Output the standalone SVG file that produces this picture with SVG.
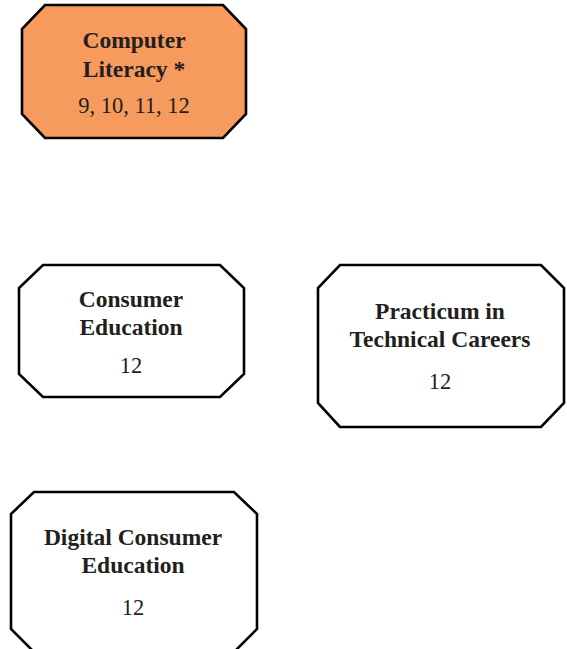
<svg xmlns="http://www.w3.org/2000/svg" width="567" height="649" viewBox="0 0 567 649">
<style>
.box{fill:#fff;stroke:#000;stroke-width:2.6;stroke-linejoin:miter}
.hot{fill:#F79A5D}
text{font-family:"Liberation Serif","Times New Roman",serif;fill:#231F20;text-anchor:middle;font-size:22.5px}
.t{font-weight:bold;font-size:23.5px}
</style>
<rect width="567" height="649" fill="#fff"/>
<g id="connectors"></g>
<g id="computer-literacy">
<polygon class="box hot" points="45,5 223,5 246,29 246,114 223,138 45,138 22,114 22,29"/>
<text class="t" x="134" y="48">Computer</text>
<text class="t" x="134" y="77">Literacy *</text>
<text x="134" y="113">9, 10, 11, 12</text>
</g>
<g id="consumer-education">
<polygon class="box" points="43,265 220,265 244,288 244,374 220,397 43,397 19,374 19,288"/>
<text class="t" x="131" y="307">Consumer</text>
<text class="t" x="131" y="335">Education</text>
<text x="131" y="373">12</text>
</g>
<g id="practicum">
<polygon class="box" points="340,265 541,265 564,288 564,403 541,427 340,427 318,403 318,288"/>
<text class="t" x="440" y="319">Practicum in</text>
<text class="t" x="440" y="347">Technical Careers</text>
<text x="440" y="389">12</text>
</g>
<g id="digital-consumer-education">
<polygon class="box" points="34,492 234,492 257,514 257,629 234,652 34,652 11,629 11,514"/>
<text class="t" x="133" y="545">Digital Consumer</text>
<text class="t" x="133" y="573">Education</text>
<text x="133" y="615">12</text>
</g>
</svg>
